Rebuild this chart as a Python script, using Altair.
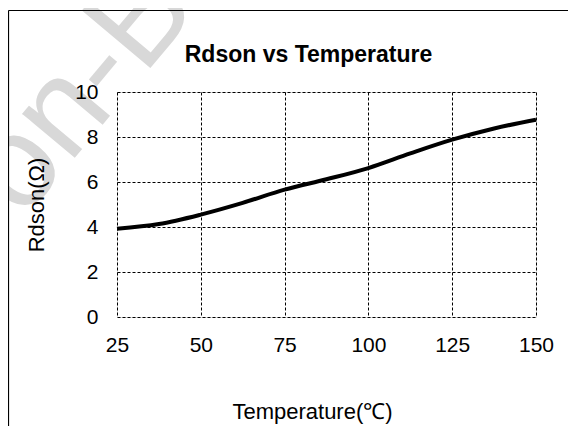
import altair as alt
import pandas as pd

# Data
temperature = [25, 37.5, 50, 62.5, 75, 87.5, 100, 112.5, 125, 137.5, 150]
rdson = [3.92, 4.13, 4.55, 5.07, 5.66, 6.12, 6.62, 7.27, 7.88, 8.38, 8.77]
x_ticks = [25, 50, 75, 100, 125, 150]
y_ticks = [0, 2, 4, 6, 8, 10]
chart_title = ["Rdson vs Temperature"]

df = pd.DataFrame({"T": temperature, "R": rdson})
one = pd.DataFrame({"a": [0]})
title_df = pd.DataFrame({"t": chart_title})

FONT = "Liberation Sans"

x_axis = alt.Axis(
    values=x_ticks, ticks=False, tickSize=0, domain=False, grid=True,
    gridColor="#000000", gridDash=[3, 2], gridWidth=1, gridOpacity=1,
    labelFont=FONT, labelFontSize=21, labelColor="#000000", labelPadding=17,
    labelFlush=False,
    title="Temperature(℃)", titleFont=FONT, titleFontSize=22,
    titleFontWeight="normal", titleColor="#000000",
    titleX=195, titleY=94, titleBaseline="middle", titleAlign="center",
    zindex=1,
)
y_axis = alt.Axis(
    values=y_ticks, ticks=False, tickSize=0, domain=False, grid=True,
    gridColor="#000000", gridDash=[3, 2], gridWidth=1, gridOpacity=1,
    labelFont=FONT, labelFontSize=21, labelColor="#000000", labelPadding=19,
    labelFlush=False,
    title="Rdson(Ω)", titleFont=FONT, titleFontSize=22,
    titleFontWeight="normal", titleColor="#000000",
    titleX=-81, titleY=112.5, titleAngle=270, titleBaseline="middle",
    titleAlign="center", zindex=1,
)

watermark = alt.Chart(one).mark_text(
    text="on-B", font=FONT, fontSize=130, color="#d8d8d8",
    angle=310, align="center", baseline="middle",
).encode(x=alt.value(-36), y=alt.value(-2))

frame_top = alt.Chart(one).mark_rule(color="#000000", strokeWidth=1.2).encode(
    x=alt.value(-108.5), x2=alt.value(460), y=alt.value(-81.5)
)
frame_left = alt.Chart(one).mark_rule(color="#000000", strokeWidth=1.2).encode(
    x=alt.value(-108.5), y=alt.value(-81.5), y2=alt.value(340)
)

title_mark = alt.Chart(title_df).mark_text(
    font=FONT, fontSize=23, fontWeight="bold", color="#000000",
    align="center", baseline="alphabetic",
).encode(text="t:N", x=alt.value(191.5), y=alt.value(-30))

line = alt.Chart(df).mark_line(
    color="#000000", strokeWidth=4, interpolate="monotone"
).encode(
    x=alt.X("T:Q", scale=alt.Scale(domain=[25, 150], nice=False, zero=False), axis=x_axis),
    y=alt.Y("R:Q", scale=alt.Scale(domain=[0, 10], nice=False), axis=y_axis),
)

chart = alt.layer(watermark, frame_top, frame_left, title_mark, line).properties(
    width=419,
    height=225,
    padding={"left": 109, "top": 84, "right": 32, "bottom": 109},
    autosize=alt.AutoSizeParams(type="none"),
).configure_view(
    stroke="#000000", strokeWidth=1.5
).configure(background="#ffffff")

chart.save("out.html", embed_options={"renderer": "svg", "actions": False})
